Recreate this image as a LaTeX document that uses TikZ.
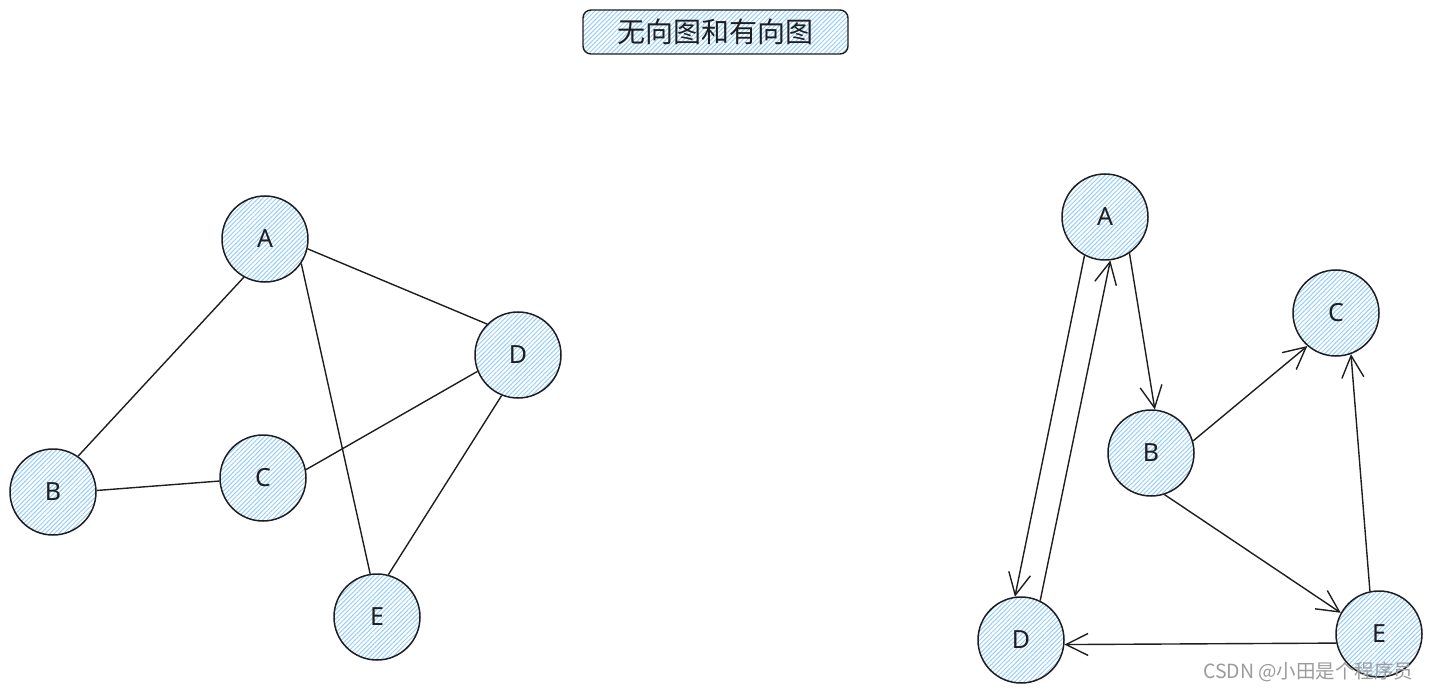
\documentclass[tikz,border=0pt]{standalone}
\usepackage{fontspec}
\setsansfont{Noto Sans}
\newfontfamily\cjk{Noto Sans CJK SC}
\usetikzlibrary{arrows.meta,patterns.meta}
\definecolor{hatch}{RGB}{150,205,250}
\definecolor{ink}{RGB}{30,30,30}
\definecolor{wm}{RGB}{155,155,155}
\tikzset{
  vertex/.style={circle,draw=ink,line width=1.5pt,minimum size=86pt,inner sep=0pt,
    pattern={Lines[angle=45,distance=3.2pt,line width=1pt]},pattern color=hatch,
    font=\sffamily\fontsize{25}{25}\selectfont,text=ink},
  edge/.style={draw=ink,line width=1.4pt},
  arc/.style={edge,-{Straight Barb[length=22pt,width=22pt,line width=1.4pt]}},
  titlebox/.style={rounded corners=8pt,draw=ink,line width=1.4pt,
    pattern={Lines[angle=45,distance=3.2pt,line width=1pt]},pattern color=hatch,
    minimum width=265pt,minimum height=44pt,inner sep=0pt,
    font=\cjk\fontsize{28}{28}\selectfont,text=ink}
}
\begin{document}
\begin{tikzpicture}[x=1pt,y=-1pt]
\useasboundingbox (0,0) rectangle (1431,692);
\node[titlebox] (title) at (715.5,32) {无向图和有向图};
% undirected
\node[vertex] (A) at (265,239) {A};
\node[vertex] (B) at (53,492) {B};
\node[vertex] (C) at (263,478) {C};
\node[vertex] (D) at (518,355) {D};
\node[vertex] (E) at (377,617) {E};
\draw[edge] (A.-119) -- (B.55);
\draw[edge] (A.-13) -- (D.135);
\draw[edge] (A.-34) -- (E.99);
\draw[edge] (B.2) -- (C.184);
\draw[edge] (C.11) -- (D.202);
\draw[edge] (D.-112) -- (E.75);
% directed
\node[vertex] (dA) at (1105,217) {A};
\node[vertex] (dC) at (1336,313) {C};
\node[vertex] (dB) at (1151,453) {B};
\node[vertex] (dD) at (1021,640) {D};
\node[vertex] (dE) at (1379,634) {E};
\draw[arc] (dA.-118) -- (dD.98);
\draw[arc] (dD.64) -- (dA.-83);
\draw[arc] (dA.-56) -- (dB.85);
\draw[arc] (dB.16) -- (dC.-131);
\draw[arc] (dB.-72) -- (dE.151);
\draw[arc] (dE.102) -- (dC.-70);
\draw[arc] (dE.192) -- (dD.-6);
\node[font=\cjk\fontsize{19.5}{19.5}\selectfont,text=wm,anchor=east] (wmk) at (1417,672) {CSDN @小田是个程序员};
\end{tikzpicture}
\end{document}
